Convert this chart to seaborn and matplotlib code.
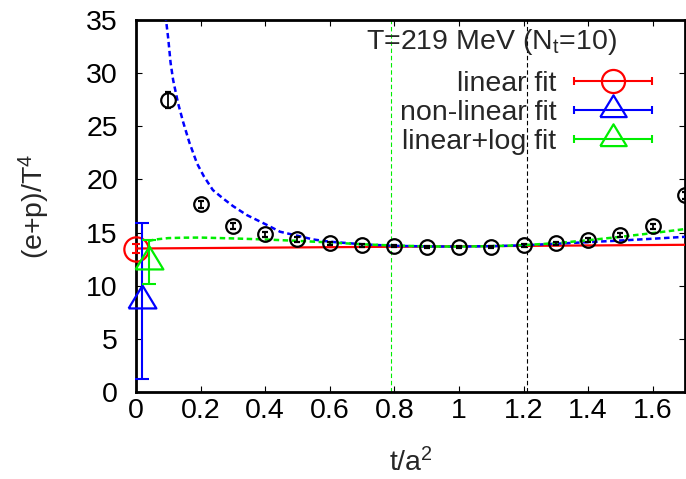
import numpy as np
import pandas as pd
import matplotlib
matplotlib.use("Agg")
import matplotlib.pyplot as plt
import seaborn as sns
from matplotlib.lines import Line2D
from matplotlib.collections import LineCollection
from matplotlib.container import ErrorbarContainer
from matplotlib.legend_handler import HandlerErrorbar
from matplotlib.ticker import FuncFormatter

# ---------------- data ----------------
t_data = [0.1, 0.2, 0.3, 0.4, 0.5, 0.6, 0.7, 0.8, 0.9, 1.0, 1.1, 1.2, 1.3, 1.4, 1.5, 1.6, 1.7]
ep_data = [27.5, 17.65, 15.6, 14.83, 14.35, 14.0, 13.8, 13.7, 13.65, 13.62, 13.68, 13.8, 14.0, 14.3, 14.77, 15.6, 18.5]
ep_err = [0.75, 0.35, 0.3, 0.25, 0.2, 0.15, 0.12, 0.1, 0.1, 0.1, 0.1, 0.12, 0.15, 0.15, 0.2, 0.25, 0.3]

# continuum-limit (t -> 0) extrapolations
extrap_labels = ["linear fit", "non-linear fit", "linear+log fit"]
extrap_t = [0.0, 0.02, 0.04]
extrap_val = [13.5, 8.55, 12.25]
extrap_err = [0.4, 7.35, 2.05]

# fit curves
linear_t = [0.0, 1.7]
linear_y = [13.5, 13.85]

nonlin_t = [0.088, 0.093, 0.1, 0.107, 0.115, 0.13, 0.146, 0.165, 0.189, 0.21, 0.238, 0.27, 0.3,
            0.343, 0.4, 0.446, 0.5, 0.549, 0.6, 0.7, 0.8, 0.9, 1.0, 1.1, 1.2, 1.3, 1.4, 1.5, 1.6, 1.7]
nonlin_y = [36.3, 35.0, 33.2, 31.0, 29.35, 27.2, 25.4, 23.5, 21.5, 20.3, 19.0, 18.2, 17.5,
            16.65, 15.8, 15.08, 14.7, 14.35, 14.14, 13.9, 13.75, 13.7, 13.68, 13.72, 13.8, 13.95,
            14.1, 14.25, 14.42, 14.6]

linlog_t = [0.037, 0.06, 0.1, 0.15, 0.2, 0.3, 0.4, 0.5, 0.6, 0.7, 0.8, 0.9, 1.0, 1.1, 1.2,
            1.3, 1.4, 1.5, 1.6, 1.7]
linlog_y = [14.2, 14.35, 14.48, 14.52, 14.53, 14.45, 14.35, 14.22, 14.07, 13.9, 13.78, 13.7,
            13.68, 13.72, 13.82, 14.0, 14.28, 14.6, 14.95, 15.33]

fit_window = [0.79, 1.21]

x_ticks = [0, 0.2, 0.4, 0.6, 0.8, 1.0, 1.2, 1.4, 1.6]
y_ticks = [0, 5, 10, 15, 20, 25, 30, 35]

# ---------------- style ----------------
sns.set_style("ticks")
plt.rcParams["font.family"] = ["Liberation Sans", "DejaVu Sans"]
plt.rcParams["mathtext.default"] = "regular"
FS = 20.5

RED, BLUE, GREEN = "#ff0000", "#0000ff", "#00ee00"

fig = plt.figure(figsize=(6.86, 4.79), dpi=100)
ax = fig.add_axes([136 / 686, 1 - 392 / 479, (685 - 136) / 686, (392 - 20) / 479])

# fit-window markers
ax.axvline(fit_window[0], color=GREEN, lw=0.8, ls=(0, (4, 2.5)), zorder=1)
ax.axvline(fit_window[1], color="black", lw=0.8, ls=(0, (4, 2.5)), zorder=1)

# fit curves
sns.lineplot(data=pd.DataFrame({"t": linear_t, "y": linear_y}), x="t", y="y", ax=ax,
             color=RED, lw=1.6, estimator=None, sort=False, zorder=3)
sns.lineplot(data=pd.DataFrame({"t": nonlin_t, "y": nonlin_y}), x="t", y="y", ax=ax,
             color=BLUE, lw=1.8, linestyle=(0, (2.2, 1.4)), estimator=None, sort=False, zorder=3)
sns.lineplot(data=pd.DataFrame({"t": linlog_t, "y": linlog_y}), x="t", y="y", ax=ax,
             color=GREEN, lw=1.8, linestyle=(0, (2.2, 1.4)), estimator=None, sort=False, zorder=3)

# lattice data
ax.errorbar(t_data, ep_data, yerr=ep_err, fmt="o", ms=10.5, mfc="none", mec="black", mew=1.6,
            ecolor="black", elinewidth=1.3, capsize=2.5, capthick=1.3, zorder=5)

# extrapolated points
tri = [(-1, -0.5), (1, -0.5), (0, 1.15), (-1, -0.5)]
markers = ["o", tri, tri]
sizes = [17.5, 23, 23]
colors = [RED, BLUE, GREEN]
caps = [3, 5, 5]
handles = []
for lab, tx, vv, ee, mk, sz, cc, cp in zip(extrap_labels, extrap_t, extrap_val, extrap_err,
                                            markers, sizes, colors, caps):
    eb = ax.errorbar([tx], [vv], yerr=[ee], fmt="none", ecolor=cc, elinewidth=1.5,
                     capsize=cp, capthick=1.5, zorder=6)
    for art in eb.get_children():
        art.set_clip_on(False)
    ln, = ax.plot([tx], [vv], ls="none", marker=mk, ms=sz, mfc="none", mec=cc, mew=1.6,
                  zorder=6, clip_on=False)
    # legend proxy: horizontal error bar with marker
    pl = Line2D([], [], ls="none", marker=mk, ms=sz * 0.95, mfc="none", mec=cc, mew=1.6)
    cl = Line2D([], [], ls="none", marker="|", ms=6, mew=1.5, color=cc)
    bc = LineCollection([], colors=cc, linewidths=1.5)
    handles.append(ErrorbarContainer((pl, (cl,), (bc,)), has_xerr=True, has_yerr=False,
                                     label=lab))

# axes
ax.set_xlim(0, 1.7)
ax.set_ylim(0, 35)
ax.set_xticks(x_ticks)
ax.set_yticks(y_ticks)
ax.xaxis.set_major_formatter(FuncFormatter(lambda v, p: "%g" % v))
ax.yaxis.set_major_formatter(FuncFormatter(lambda v, p: "%g" % v))
ax.tick_params(axis="both", which="major", direction="in", length=4.5, width=0.8,
               top=True, right=True, labelsize=FS, colors="black")
ax.tick_params(axis="x", pad=4)
ax.tick_params(axis="y", pad=13)
for s in ax.spines.values():
    s.set_linewidth(2.0)
    s.set_color("black")
    s.set_visible(True)

ax.set_xlabel("t/a$^2$", fontsize=FS)
ax.set_ylabel("(e+p)/T$^4$", fontsize=FS)
ax.yaxis.set_label_coords((52 - 136) / 549, 0.5)
ax.xaxis.set_label_coords(0.5, -(448 - 392) / 372)

fig.text(617 / 686, 1 - 42 / 479, "T=219 MeV (N$_t$=10)", ha="right", va="center", fontsize=FS)

leg = ax.legend(handles=handles, loc="center right",
                bbox_to_anchor=(653 / 686, 1 - 113 / 479), bbox_transform=fig.transFigure,
                frameon=False, fontsize=FS, markerfirst=False, borderpad=0, borderaxespad=0,
                handlelength=2.8, handletextpad=0.6, labelspacing=0.12,
                handler_map={ErrorbarContainer: HandlerErrorbar(xerr_size=1.37)})
for t in leg.get_texts():
    t.set_ha("right")
leg._legend_box.align = "right"

fig.savefig("out.png", dpi=100)
